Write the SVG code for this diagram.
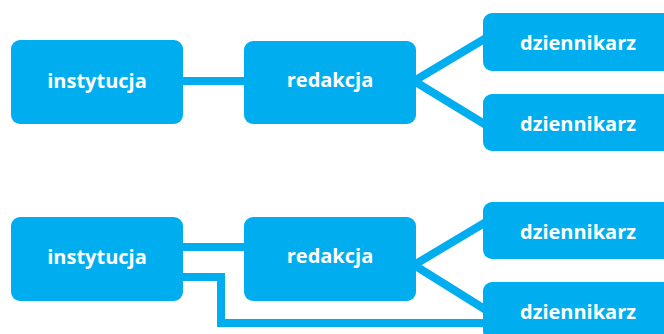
<svg xmlns="http://www.w3.org/2000/svg" width="664" height="334" viewBox="0 0 664 334">
<style>
.box{fill:#00AEEF}
.lbl{fill:#fff;font-family:"Open Sans","Noto Sans",sans-serif;font-weight:bold;font-size:20px;text-anchor:middle}
.con{fill:none;stroke:#00AEEF;stroke-width:8;stroke-linejoin:miter}
</style>
<rect width="664" height="334" fill="#fff"/>
<g id="connectors">
<line class="con" x1="180" y1="81" x2="248" y2="81"/>
<line class="con" x1="414" y1="81" x2="486" y2="38"/>
<line class="con" x1="414" y1="81" x2="486" y2="125"/>
<line class="con" x1="180" y1="247" x2="248" y2="247"/>
<polyline class="con" points="180,277 221,277 221,323 488,323"/>
<line class="con" x1="414" y1="265" x2="486" y2="222"/>
<line class="con" x1="414" y1="265" x2="486" y2="310"/>
</g>
<g id="n1"><rect class="box" x="11" y="40" width="172" height="84" rx="9"/><text class="lbl" x="97" y="88">instytucja</text></g>
<g id="n2"><rect class="box" x="244" y="41" width="172" height="83" rx="9"/><text class="lbl" x="330" y="87">redakcja</text></g>
<g id="n3"><rect class="box" x="483" y="13" width="192" height="58" rx="9"/><text class="lbl" x="578" y="50">dziennikarz</text></g>
<g id="n4"><rect class="box" x="483" y="94" width="192" height="57" rx="9"/><text class="lbl" x="578" y="131">dziennikarz</text></g>
<g id="n5"><rect class="box" x="11" y="217" width="172" height="84" rx="9"/><text class="lbl" x="97" y="264">instytucja</text></g>
<g id="n6"><rect class="box" x="244" y="217" width="172" height="84" rx="9"/><text class="lbl" x="330" y="263">redakcja</text></g>
<g id="n7"><rect class="box" x="483" y="202" width="192" height="57" rx="9"/><text class="lbl" x="578" y="239">dziennikarz</text></g>
<g id="n8"><rect class="box" x="483" y="282" width="192" height="58" rx="9"/><text class="lbl" x="578" y="319">dziennikarz</text></g>
</svg>
